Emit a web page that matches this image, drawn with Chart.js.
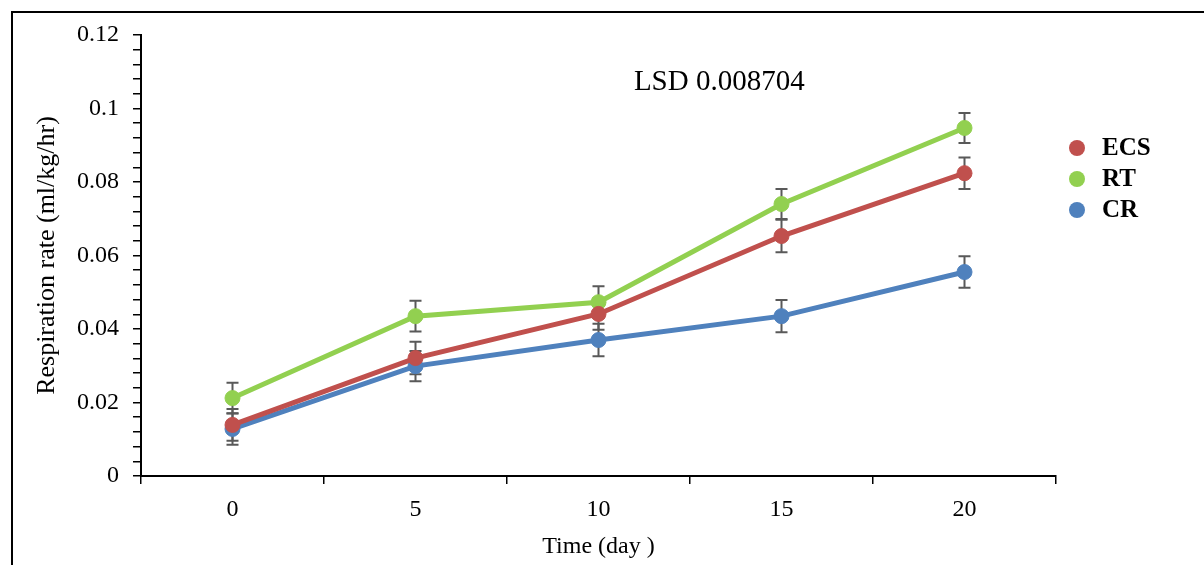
<!DOCTYPE html>
<html>
<head>
<meta charset="utf-8">
<script src="https://cdn.jsdelivr.net/npm/chart.js@4/dist/chart.umd.min.js"></script>
<style>
  html, body { margin: 0; padding: 0; background: #fff; }
  #wrap { position: relative; width: 1204px; height: 565px; overflow: hidden; }
  #frame { position: absolute; left: 11px; top: 11px; right: -4px; bottom: -4px;
           border-top: 2px solid #000; border-left: 2px solid #000; pointer-events: none; }
  canvas { display: block; }
</style>
</head>
<body>
<div id="wrap">
  <canvas id="c" width="1204" height="565"></canvas>
  <div id="frame"></div>
</div>
<script>
// Storage time in days
const days = ['0', '5', '10', '15', '20'];

// Respiration rate (ml/kg/hr) per treatment
const ecsRate = [0.0139, 0.0321, 0.0441, 0.0653, 0.0824];
const rtRate  = [0.0212, 0.0435, 0.0473, 0.0740, 0.0947];
const crRate  = [0.0128, 0.0299, 0.0370, 0.0435, 0.0555];

// Error bar half-widths
const ecsErr = [0.0043, 0.0044, 0.0043, 0.0044, 0.0043];
const rtErr  = [0.0042, 0.0042, 0.0043, 0.0041, 0.0041];
const crErr  = [0.0043, 0.0041, 0.0044, 0.0044, 0.0043];

const seriesNames = ['ECS', 'RT', 'CR'];
const seriesColors = ['#C0504D', '#92D050', '#4F81BD'];

const lsdLabel = 'LSD 0.008704';
const yMajorStep = 0.02;
const yMinorStep = 0.004;

const serif = "'Liberation Serif', 'Times New Roman', serif";

function isMajor(v) {
  const r = v / yMajorStep;
  return Math.abs(r - Math.round(r)) < 1e-6;
}

const errorBars = {
  id: 'errorBars',
  beforeDatasetsDraw(chart) {
    const ctx = chart.ctx;
    const ys = chart.scales.y;
    ctx.save();
    ctx.strokeStyle = '#595959';
    ctx.lineWidth = 2;
    chart.data.datasets.forEach((ds, i) => {
      const meta = chart.getDatasetMeta(i);
      ds.data.forEach((v, j) => {
        const e = ds.errors[j];
        const x = meta.data[j].x;
        const yt = ys.getPixelForValue(v + e);
        const yb = ys.getPixelForValue(v - e);
        ctx.beginPath();
        ctx.moveTo(x, yt); ctx.lineTo(x, yb);
        ctx.moveTo(x - 6, yt); ctx.lineTo(x + 6, yt);
        ctx.moveTo(x - 6, yb); ctx.lineTo(x + 6, yb);
        ctx.stroke();
      });
    });
    ctx.restore();
  }
};

const sideLegend = {
  id: 'sideLegend',
  afterDraw(chart) {
    const ctx = chart.ctx;
    ctx.save();
    ctx.font = "bold 25px " + serif;
    ctx.textBaseline = 'middle';
    ctx.textAlign = 'left';
    chart.data.datasets.forEach((ds, i) => {
      const y = 148 + i * 31;
      ctx.fillStyle = ds.borderColor;
      ctx.beginPath();
      ctx.arc(1077, y, 8, 0, Math.PI * 2);
      ctx.fill();
      ctx.fillStyle = '#000';
      ctx.fillText(ds.label, 1102, y + 1);
    });
    ctx.restore();
  }
};

const lsdText = {
  id: 'lsdText',
  afterDraw(chart) {
    const a = chart.chartArea;
    const ctx = chart.ctx;
    ctx.save();
    ctx.font = "29px " + serif;
    ctx.fillStyle = '#000';
    ctx.textAlign = 'center';
    ctx.textBaseline = 'middle';
    ctx.fillText(lsdLabel, a.left + (a.right - a.left) * 0.632, a.top + (a.bottom - a.top) * 0.108);
    ctx.restore();
  }
};

const rates = [ecsRate, rtRate, crRate];
const errs = [ecsErr, rtErr, crErr];

new Chart(document.getElementById('c'), {
  type: 'line',
  data: {
    labels: days,
    datasets: seriesNames.map((name, i) => ({
      label: name,
      data: rates[i],
      errors: errs[i],
      borderColor: seriesColors[i],
      backgroundColor: seriesColors[i],
      pointBackgroundColor: seriesColors[i],
      pointBorderColor: seriesColors[i],
      borderWidth: 5,
      pointRadius: 7.5,
      pointBorderWidth: 1,
      tension: 0,
      fill: false
    }))
  },
  options: {
    responsive: false,
    animation: false,
    devicePixelRatio: 1,
    layout: { padding: { left: 28, right: 148, top: 35, bottom: 0 } },
    plugins: { legend: { display: false }, tooltip: { enabled: false } },
    scales: {
      x: {
        type: 'category',
        offset: true,
        grid: { offset: true, drawOnChartArea: false, drawTicks: true, tickLength: 8, color: '#000', lineWidth: 1.5 },
        border: { color: '#000', width: 2 },
        ticks: { padding: 11, color: '#000', font: { family: serif, size: 24 }, maxRotation: 0 },
        title: { display: true, text: 'Time (day )', color: '#000', font: { family: serif, size: 24 }, padding: { top: 2, bottom: 4 } },
        afterFit(s) { s.height = 89; }
      },
      y: {
        min: 0,
        max: 0.12,
        grid: { drawOnChartArea: false, drawTicks: true, tickLength: 8, color: '#000', lineWidth: 1.5 },
        border: { color: '#000', width: 2 },
        ticks: {
          stepSize: yMinorStep,
          maxTicksLimit: 100,
          autoSkip: false,
          padding: 14,
          color: '#000',
          font: { family: serif, size: 24 },
          callback: (v) => isMajor(v) ? String(parseFloat(v.toFixed(2))) : ''
        },
        title: { display: true, text: 'Respiration rate (ml/kg/hr)', color: '#000', font: { family: serif, size: 26 }, padding: 4 },
        afterFit(s) { s.width = 113; }
      }
    }
  },
  plugins: [errorBars, sideLegend, lsdText]
});
</script>
</body>
</html>
